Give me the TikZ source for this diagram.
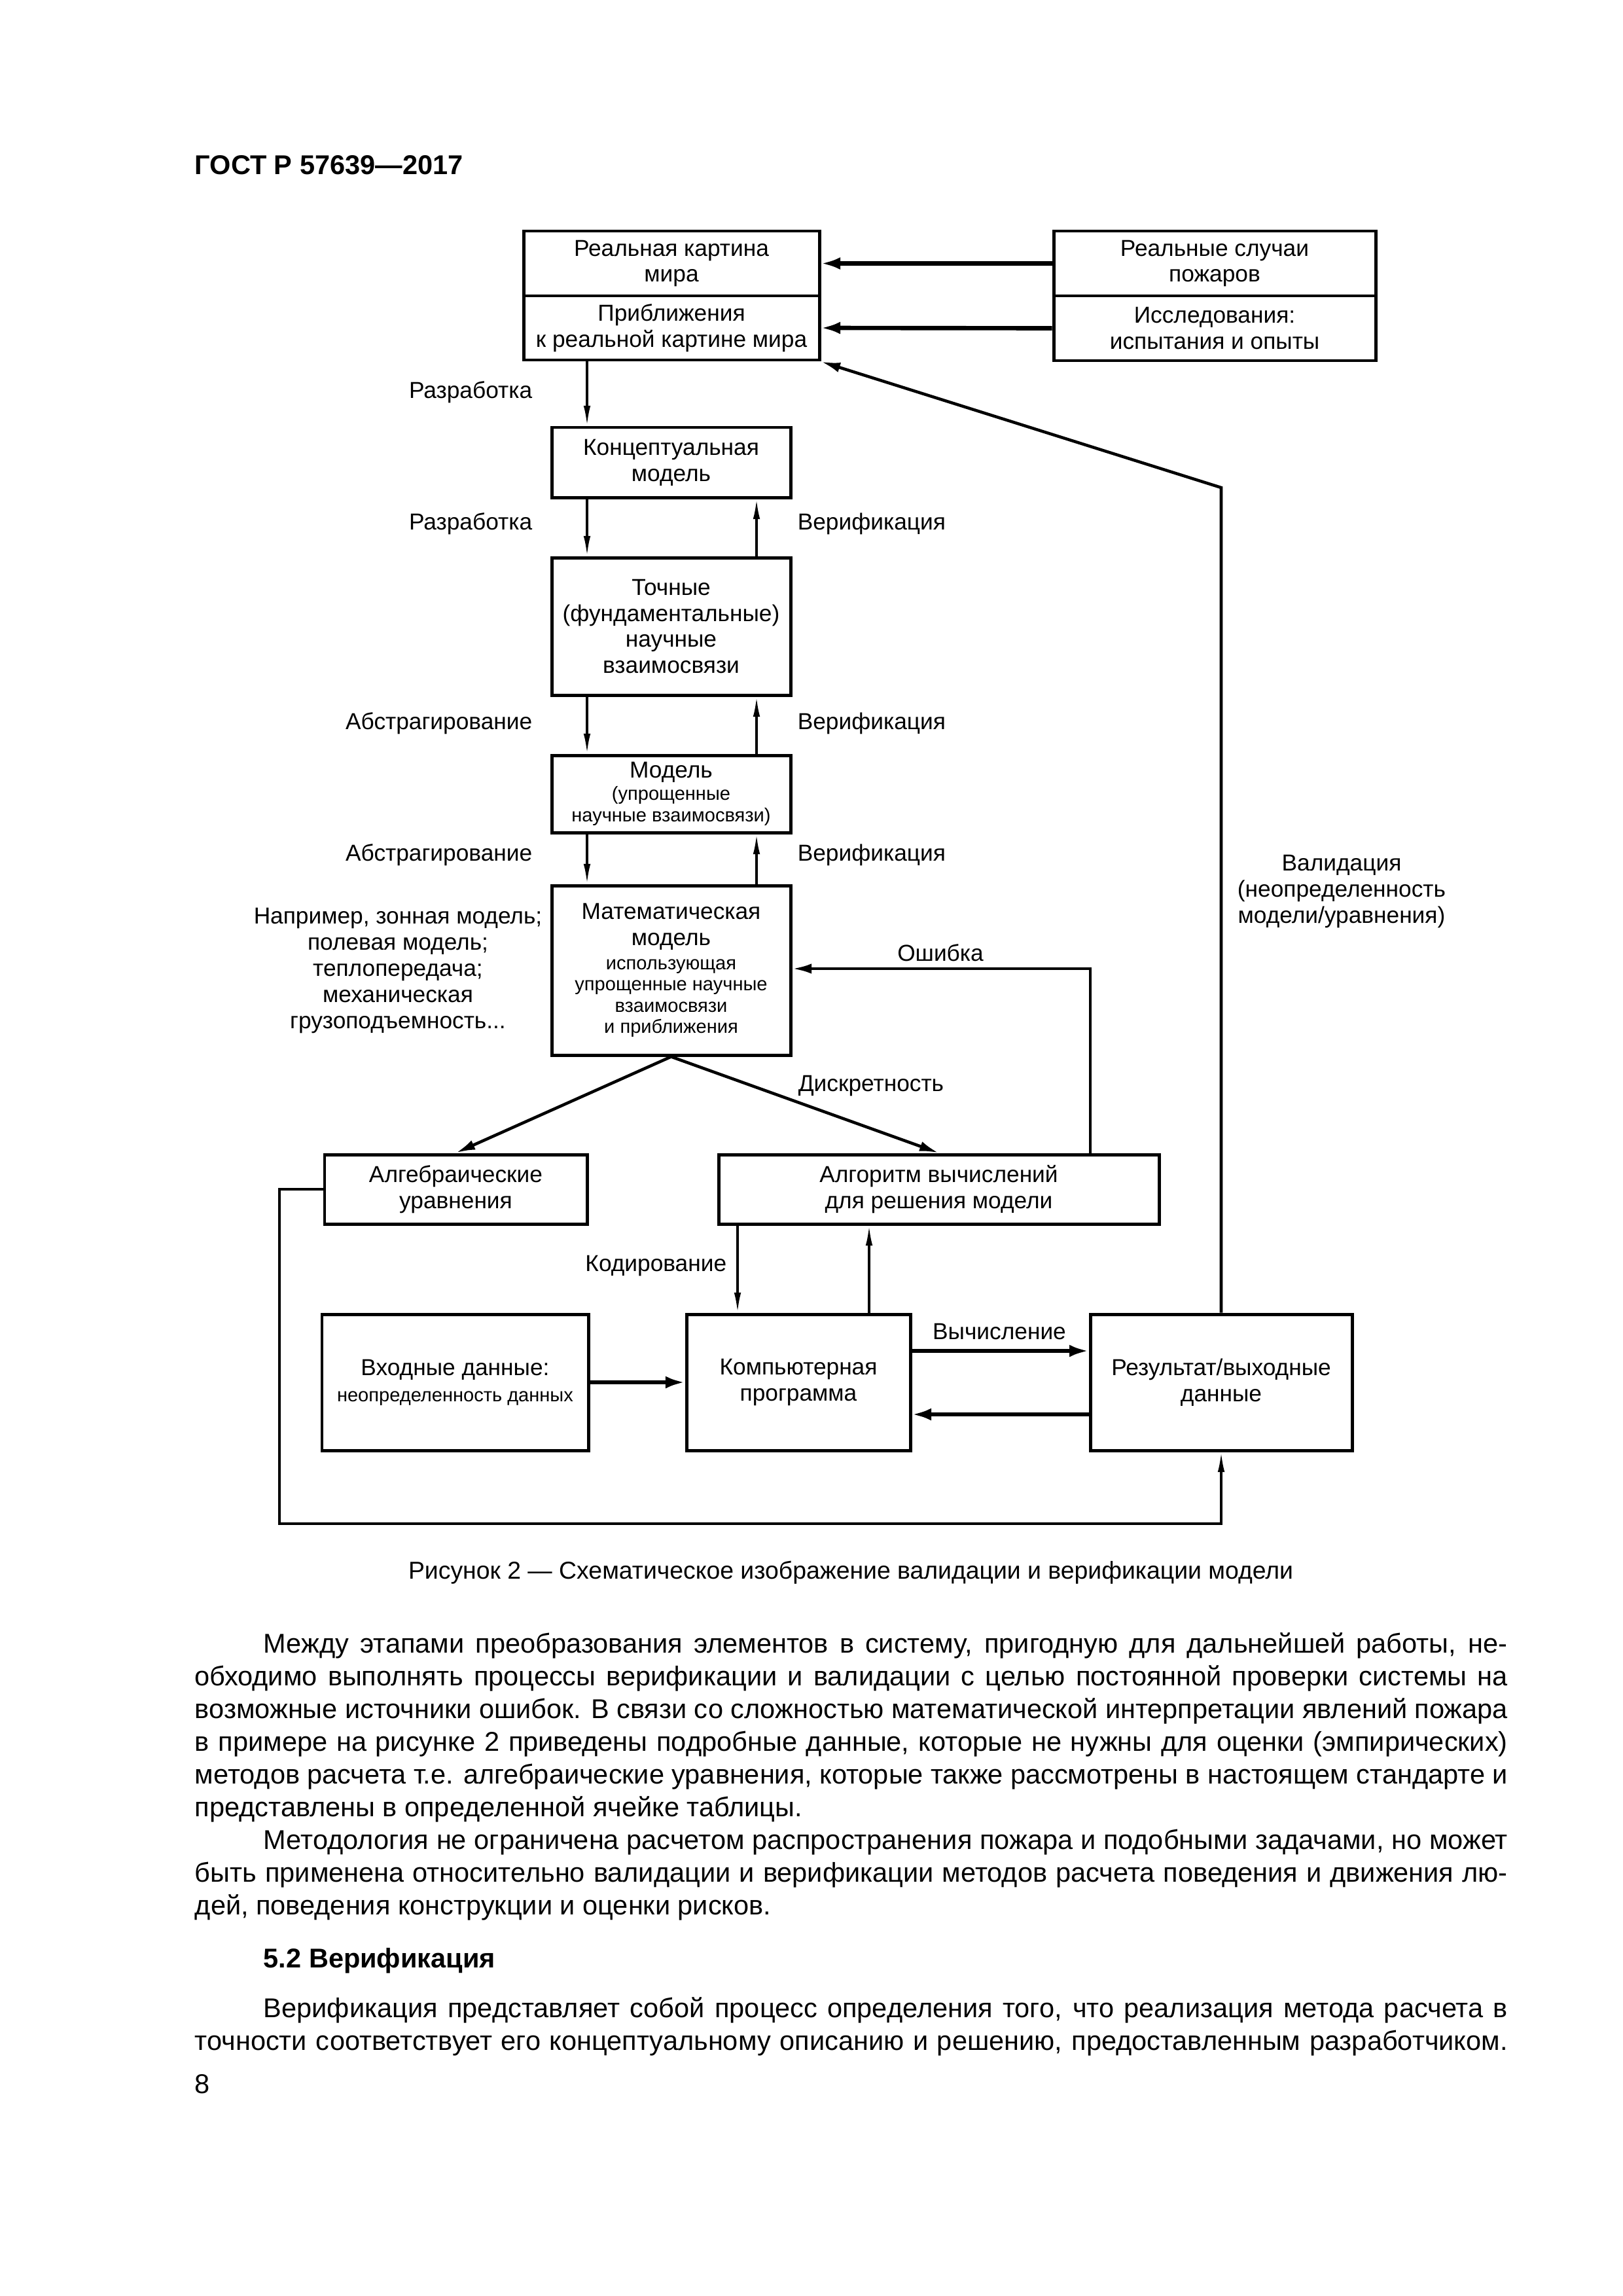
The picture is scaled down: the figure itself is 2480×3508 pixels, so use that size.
\documentclass[tikz,border=0pt]{standalone}
\usepackage{fontspec}
\setmainfont{Liberation Sans}
\usetikzlibrary{arrows.meta,calc}
\newcommand\fsA{\fontsize{8.5pt}{9.6pt}\selectfont}
\newcommand\fsB{\fontsize{7pt}{7.7pt}\selectfont}
\newcommand\jline[1]{\hbox to 169.84mm{#1}}
\newcommand\lline[1]{\hbox to 169.84mm{#1\hfil}}
\def\px{0.084667mm}
\tikzset{
  box/.style={draw, line width=1.2pt, inner sep=0pt, align=center, font=\fsA},
  lbl/.style={inner sep=0pt, font=\fsA},
  thickarr/.style={line width=1.6pt, -{Latex[length=2.5mm,width=1.6mm]}},
  medarr/.style={line width=1.1pt, -{Latex[length=2.5mm,width=1.3mm]}},
  thinarr/.style={line width=0.75pt, -{Latex[length=2.6mm,width=0.9mm]}},
  pagetext/.style={inner sep=0pt, font=\fontsize{10pt}{12.05pt}\selectfont},
}
\begin{document}
\begin{tikzpicture}[x=0.084667mm,y=-0.084667mm]
\fill[white] (0,0) rectangle (2480,3508);
\useasboundingbox (0,0) rectangle (2480,3508);

% header
\node[anchor=base west, inner sep=0pt, font=\bfseries\fontsize{10pt}{12pt}\selectfont] (hdr) at (297,266) {ГОСТ Р 57639—2017};

% boxes
\node[box, minimum width=452*\px, minimum height=99*\px] (real) at (1026,402.5) {Реальная картина\\мира};
\node[box, minimum width=452*\px, minimum height=98*\px] (approx) at (1026,501) {Приближения\\к реальной картине мира};
\node[box, minimum width=492*\px, minimum height=99*\px] (fires) at (1856,402.5) {Реальные случаи\\пожаров};
\node[box, minimum width=492*\px, minimum height=99*\px] (research) at (1856,501.5) {Исследования:\\испытания и опыты};
\node[box, minimum width=365*\px, minimum height=107*\px] (concept) at (1025.5,706.5) {Концептуальная\\модель};
\node[box, minimum width=365*\px, minimum height=210*\px] (exact) at (1025.5,957) {Точные\\(фундаментальные)\\научные\\взаимосвязи};
\node[box, minimum width=365*\px, minimum height=118*\px] (model) at (1025.5,1213) {Модель\\[-1.4pt]\fsB (упрощенные\\[-1.6pt]\fsB научные взаимосвязи)};
\node[box, minimum width=365*\px, minimum height=259*\px] (math) at (1025.5,1482.5) {Математическая\\модель\\[-0.8pt]\fsB использующая\\[-1.8pt]\fsB упрощенные научные\\[-1.8pt]\fsB взаимосвязи\\[-1.8pt]\fsB и приближения};
\node[box, minimum width=401*\px, minimum height=106*\px] (alg) at (696.5,1817) {Алгебраические\\уравнения};
\node[box, minimum width=673*\px, minimum height=106*\px] (algo) at (1434.5,1817) {Алгоритм вычислений\\для решения модели};
\node[box, minimum width=407*\px, minimum height=208*\px] (input) at (695.5,2112) {Входные данные:\\\fsB неопределенность данных};
\node[box, minimum width=342*\px, minimum height=208*\px] (comp) at (1220,2112) {Компьютерная\\программа};
\node[box, minimum width=400*\px, minimum height=208*\px] (result) at (1866,2112) {Результат/выходные\\данные};

% helper coordinates
\coordinate (xL) at (897,0);
\coordinate (xR) at (1156,0);
\coordinate (xK) at (1127,0);
\coordinate (xU) at (1328,0);
\coordinate (eC) at (1666,1480);
\coordinate (vC) at (1866,745);
\coordinate (r1) at (427,1817);
\coordinate (r2) at (427,2328);
\coordinate (yA) at (0,2064);
\coordinate (yB) at (0,2161);

% connectors
\draw[thickarr] (fires.west) -- (real.east);
\draw[thickarr] (research.west) -- (approx.east);
\draw[thinarr] (approx.south -| xL) -- (concept.north -| xL);
\draw[thinarr] (concept.south -| xL) -- (exact.north -| xL);
\draw[thinarr] (exact.north -| xR) -- (concept.south -| xR);
\draw[thinarr] (exact.south -| xL) -- (model.north -| xL);
\draw[thinarr] (model.north -| xR) -- (exact.south -| xR);
\draw[thinarr] (model.south -| xL) -- (math.north -| xL);
\draw[thinarr] (math.north -| xR) -- (model.south -| xR);
\draw[medarr] (math.south) -- (alg.north);
\draw[medarr] (math.south) -- (algo.north);
\draw[medarr] (algo.north -| eC) -- (eC) -- (math.east |- eC);
\draw[medarr] (result.north) -- (vC) -- (approx.south east);
\draw[thinarr] (alg.west) -- (r1) -- (r2) -- (r2 -| result.south) -- (result.south);
\draw[thinarr] (algo.south -| xK) -- (comp.north -| xK);
\draw[thinarr] (comp.north -| xU) -- (algo.south -| xU);
\draw[thickarr] (input.east) -- (comp.west);
\draw[thickarr] (comp.east |- yA) -- (result.west |- yA);
\draw[thickarr] (result.west |- yB) -- (comp.east |- yB);

% labels
\node[lbl, anchor=east] (lr1) at (814,599) {Разработка};
\node[lbl, anchor=east] (lr2) at (814,800) {Разработка};
\node[lbl, anchor=west] (lv1) at (1218,800) {Верификация};
\node[lbl, anchor=east] (la1) at (814,1105) {Абстрагирование};
\node[lbl, anchor=west] (lv2) at (1218,1105) {Верификация};
\node[lbl, anchor=east] (la2) at (814,1306) {Абстрагирование};
\node[lbl, anchor=west] (lv3) at (1218,1306) {Верификация};
\node[lbl, align=center] (lex) at (608,1483) {Например, зонная модель;\\полевая модель;\\теплопередача;\\механическая\\грузоподъемность...};
\node[lbl] (lerr) at (1437,1456) {Ошибка};
\node[lbl, anchor=west] (ldis) at (1219,1659) {Дискретность};
\node[lbl, anchor=east] (lcod) at (1111,1934) {Кодирование};
\node[lbl] (lcalc) at (1527,2035) {Вычисление};
\node[lbl, align=center] (lval) at (2050,1362) {Валидация\\(неопределенность\\модели/уравнения)};

% caption
\node[anchor=base, inner sep=0pt, font=\fontsize{9pt}{11pt}\selectfont] (cap) at (1300,2412) {Рисунок 2 — Схематическое изображение валидации и верификации модели};

% body text
\node[pagetext, anchor=base west] (p1) at (297,2525) {\vtop{%
\jline{\hskip 8.9mm Между этапами преобразования элементов в систему, пригодную для дальнейшей работы, не-}
\jline{обходимо выполнять процессы верификации и валидации с целью постоянной проверки системы на}
\jline{возможные источники ошибок. В связи со сложностью математической интерпретации явлений пожара}
\jline{в примере на рисунке 2 приведены подробные данные, которые не нужны для оценки (эмпирических)}
\jline{методов расчета т.е. алгебраические уравнения, которые также рассмотрены в настоящем стандарте и}
\lline{представлены в определенной ячейке таблицы.}
\jline{\hskip 8.9mm Методология не ограничена расчетом распространения пожара и подобными задачами, но может}
\jline{быть применена относительно валидации и верификации методов расчета поведения и движения лю-}
\lline{дей, поведения конструкции и оценки рисков.}}};

\node[anchor=base west, inner sep=0pt, font=\bfseries\fontsize{10pt}{12pt}\selectfont] (h52) at (402,3006) {5.2 Верификация};

\node[pagetext, anchor=base west] (p3) at (297,3082) {\vtop{%
\jline{\hskip 8.9mm Верификация представляет собой процесс определения того, что реализация метода расчета в}
\jline{точности соответствует его концептуальному описанию и решению, предоставленным разработчиком.}}};

\node[anchor=base west, inner sep=0pt, font=\fontsize{10pt}{12pt}\selectfont] (pg) at (297,3198) {8};
\end{tikzpicture}
\end{document}
